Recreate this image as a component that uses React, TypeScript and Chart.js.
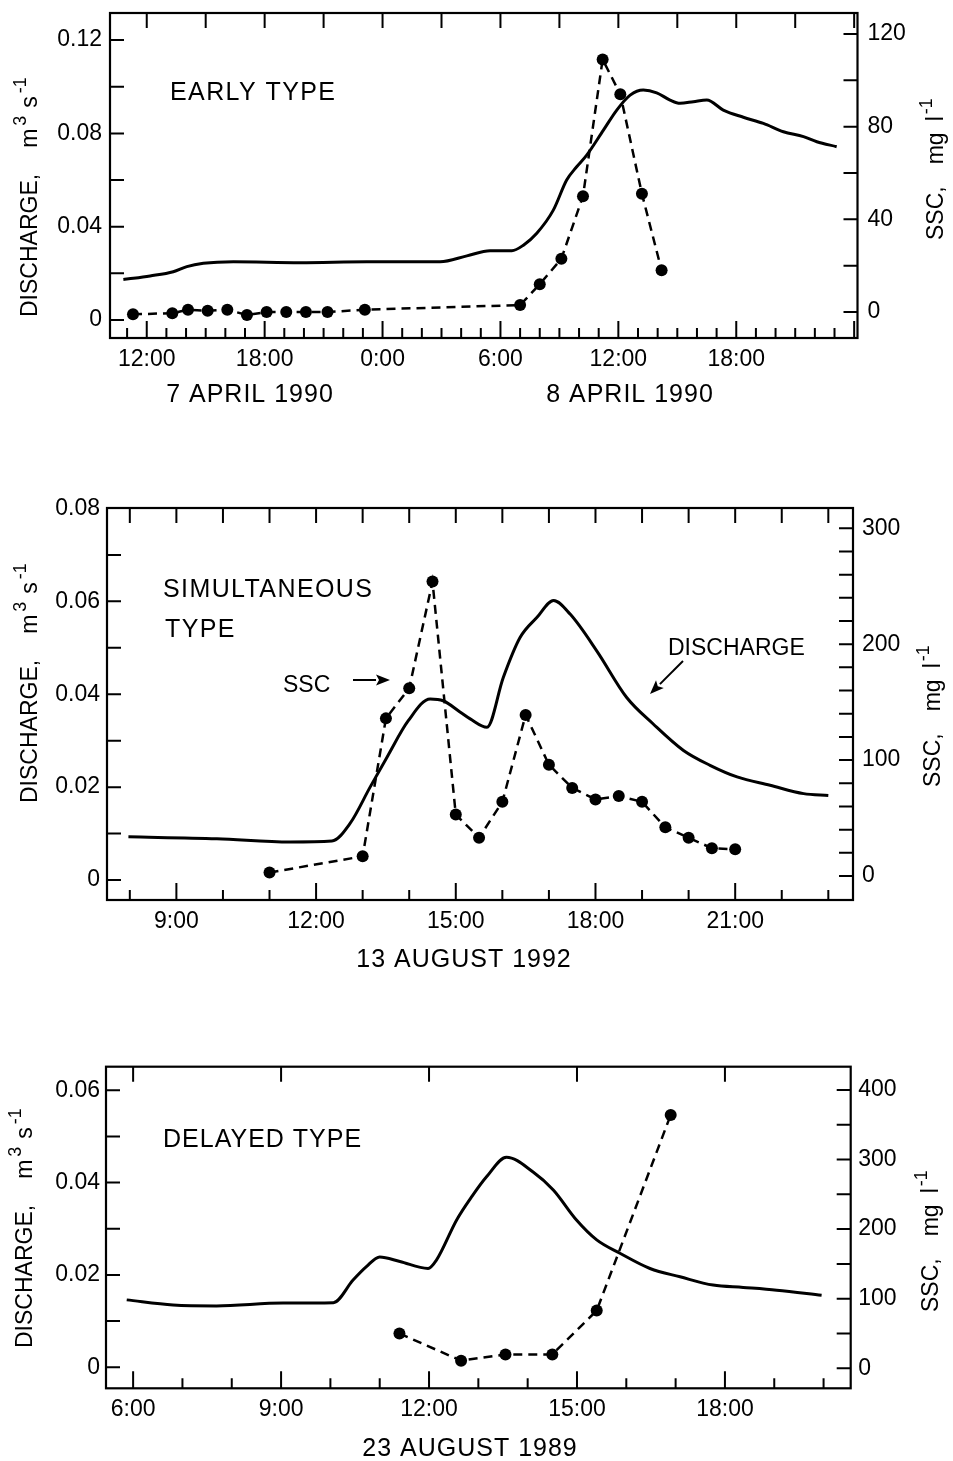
import React, { useEffect, useRef } from "react";
import { Chart, registerables } from "chart.js";

Chart.register(...registerables);

const FONT = '"Liberation Sans", Arial, sans-serif';

// ---------- Panel 1: EARLY TYPE (hours since 7 April 1990 00:00) ----------
const p1DischargeHours = [10.81, 11.32, 12.17, 13.35, 14.04, 14.88, 16.41, 19.8, 23.2, 26.93, 28.29, 29.47, 30.58, 31.17, 31.85, 32.69, 33.37, 33.88, 34.39, 35.24, 35.92, 36.6, 37.27, 37.95, 38.63, 39.14, 39.82, 40.5, 41.34, 42.36, 43.38, 44.4, 45.42, 46.1, 47.11];
const p1Discharge = [0.0174, 0.0179, 0.0189, 0.0207, 0.0229, 0.0243, 0.025, 0.0246, 0.025, 0.025, 0.0275, 0.0297, 0.0297, 0.0321, 0.0372, 0.0471, 0.06, 0.0657, 0.0707, 0.0814, 0.09, 0.0964, 0.0986, 0.0974, 0.0943, 0.0929, 0.0936, 0.0943, 0.09, 0.0869, 0.0843, 0.0807, 0.0786, 0.0764, 0.0743];
const p1SscHours = [11.3, 13.3, 14.1, 15.1, 16.1, 17.1, 18.1, 19.1, 20.1, 21.2, 23.1, 31.0, 32.0, 33.1, 34.2, 35.2, 36.1, 37.2, 38.2];
const p1Ssc = [-1, -0.5, 1, 0.5, 1, -1.3, 0, 0, 0, 0, 1, 3, 12, 23, 50, 109, 94, 51, 18];
const p1XLabelHours = [12, 18, 24, 30, 36, 42];
const p1XLabels = ["12:00", "18:00", "0:00", "6:00", "12:00", "18:00"];
const p1LeftVals = [0, 0.04, 0.08, 0.12];
const p1LeftLabels = ["0", "0.04", "0.08", "0.12"];
const p1RightVals = [0, 40, 80, 120];
const p1RightLabels = ["0", "40", "80", "120"];

// ---------- Panel 2: SIMULTANEOUS TYPE (hours, 13 August 1992) ----------
const p2DischargeHours = [7.97, 9.87, 11.44, 12.34, 12.73, 13.16, 13.52, 13.98, 14.45, 14.73, 15.09, 15.31, 15.67, 16.02, 16.38, 16.74, 17.1, 17.46, 18.03, 18.67, 19.24, 19.89, 20.46, 21.04, 21.75, 22.47, 23.0];
const p2Discharge = [0.0093, 0.0089, 0.0082, 0.0084, 0.0122, 0.02, 0.0264, 0.0343, 0.039, 0.0386, 0.0362, 0.0347, 0.0329, 0.0436, 0.0522, 0.0565, 0.0602, 0.0572, 0.0493, 0.0393, 0.0336, 0.0279, 0.0247, 0.0222, 0.0204, 0.0186, 0.0182];
const p2SscHours = [11.0, 13.0, 13.5, 14.0, 14.5, 15.0, 15.5, 16.0, 16.5, 17.0, 17.5, 18.0, 18.5, 19.0, 19.5, 20.0, 20.5, 21.0];
const p2Ssc = [3, 17, 136, 162, 254, 53, 33, 64, 139, 96, 76, 66, 69, 64, 42, 33, 24, 23];
const p2XLabelHours = [9, 12, 15, 18, 21];
const p2XLabels = ["9:00", "12:00", "15:00", "18:00", "21:00"];
const p2LeftVals = [0, 0.02, 0.04, 0.06, 0.08];
const p2LeftLabels = ["0", "0.02", "0.04", "0.06", "0.08"];
const p2RightVals = [0, 100, 200, 300];
const p2RightLabels = ["0", "100", "200", "300"];

// ---------- Panel 3: DELAYED TYPE (hours, 23 August 1989) ----------
const p3DischargeHours = [5.87, 6.81, 7.69, 9.04, 10.06, 10.46, 10.73, 11.0, 11.41, 11.98, 12.15, 12.56, 12.87, 13.17, 13.57, 14.11, 14.52, 14.99, 15.4, 15.87, 16.48, 17.09, 17.76, 18.37, 19.05, 19.96];
const p3Discharge = [0.0146, 0.0135, 0.0133, 0.0139, 0.014, 0.0189, 0.0218, 0.0239, 0.0229, 0.0214, 0.0232, 0.0319, 0.037, 0.0413, 0.0455, 0.0423, 0.0384, 0.0319, 0.0276, 0.0247, 0.0214, 0.0196, 0.0178, 0.0173, 0.0167, 0.0156];
const p3SscHours = [11.4, 12.65, 13.55, 14.5, 15.4, 16.9];
const p3Ssc = [50, 11, 20, 20, 83, 364];
const p3XLabelHours = [6, 9, 12, 15, 18];
const p3XLabels = ["6:00", "9:00", "12:00", "15:00", "18:00"];
const p3LeftVals = [0, 0.02, 0.04, 0.06];
const p3LeftLabels = ["0", "0.02", "0.04", "0.06"];
const p3RightVals = [0, 100, 200, 300, 400];
const p3RightLabels = ["0", "100", "200", "300", "400"];

type Seg = { t: string; sup?: boolean; gap?: number };
const leftTitle: Seg[] = [
  { t: "DISCHARGE," },
  { t: "m", gap: 26 },
  { t: "3", sup: true, gap: 3 },
  { t: "s", gap: 8 },
  { t: "-1", sup: true, gap: 3 },
];
const rightTitle: Seg[] = [
  { t: "SSC," },
  { t: "mg", gap: 22 },
  { t: "l", gap: 11 },
  { t: "-1", sup: true, gap: 2 },
];

interface TextItem { t: string; x: number; y: number; size: number; ls?: number; align?: CanvasTextAlign }
interface Arrow { x1: number; y1: number; x2: number; y2: number }

interface PanelCfg {
  top: number; height: number;
  leftW: number; rightW: number; padTop: number; xAxisH: number;
  xMin: number; xMax: number; xLabelStep: number; xMinor: number; xMajor: number; xTop: number;
  xLabelHours: number[]; xLabels: string[];
  yLMin: number; yLMax: number; yLStep: number; yLMinor: number; yLVals: number[]; yLLabels: string[];
  yRMin: number; yRMax: number; yRStep: number; yRMinor: number; yRVals: number[]; yRLabels: string[];
  padL: number; padR: number;
  qHours: number[]; q: number[]; sHours: number[]; s: number[];
  texts: TextItem[]; arrows: Arrow[];
  lt: { x: number; y: number }; rt: { x: number; y: number };
}

const panels: PanelCfg[] = [
  {
    top: 0, height: 430, leftW: 110, rightW: 95.5, padTop: 13, xAxisH: 92,
    xMin: 10.13, xMax: 48.17, xLabelStep: 6, xMinor: 1, xMajor: 6, xTop: 3,
    xLabelHours: p1XLabelHours, xLabels: p1XLabels,
    yLMin: -0.0077, yLMax: 0.1316, yLStep: 0.04, yLMinor: 0.02, yLVals: p1LeftVals, yLLabels: p1LeftLabels,
    yRMin: -11.22, yRMax: 129.06, yRStep: 40, yRMinor: 20, yRVals: p1RightVals, yRLabels: p1RightLabels,
    padL: 8, padR: 10,
    qHours: p1DischargeHours, q: p1Discharge, sHours: p1SscHours, s: p1Ssc,
    texts: [
      { t: "EARLY TYPE", x: 170, y: 100, size: 25, ls: 1.4 },
      { t: "7 APRIL 1990", x: 250, y: 402, size: 25, ls: 1, align: "center" },
      { t: "8 APRIL 1990", x: 630, y: 402, size: 25, ls: 1, align: "center" },
    ],
    arrows: [],
    lt: { x: 37, y: 317 }, rt: { x: 943, y: 240 },
  },
  {
    top: 480, height: 500, leftW: 107, rightW: 100, padTop: 28, xAxisH: 80,
    xMin: 7.51, xMax: 23.53, xLabelStep: 3, xMinor: 1, xMajor: 3, xTop: 1,
    xLabelHours: p2XLabelHours, xLabels: p2XLabels,
    yLMin: -0.0043, yLMax: 0.0801, yLStep: 0.02, yLMinor: 0.01, yLVals: p2LeftVals, yLLabels: p2LeftLabels,
    yRMin: -20.7, yRMax: 317.5, yRStep: 100, yRMinor: 20, yRVals: p2RightVals, yRLabels: p2RightLabels,
    padL: 7, padR: 9,
    qHours: p2DischargeHours, q: p2Discharge, sHours: p2SscHours, s: p2Ssc,
    texts: [
      { t: "SIMULTANEOUS", x: 163, y: 117, size: 25, ls: 1.4 },
      { t: "TYPE", x: 165, y: 157, size: 25, ls: 1.4 },
      { t: "SSC", x: 283, y: 212, size: 23 },
      { t: "DISCHARGE", x: 668, y: 175, size: 23 },
      { t: "13 AUGUST 1992", x: 464, y: 487, size: 25, ls: 1, align: "center" },
    ],
    arrows: [
      { x1: 353, y1: 200, x2: 390, y2: 200 },
      { x1: 683, y1: 181, x2: 650, y2: 214 },
    ],
    lt: { x: 37, y: 323 }, rt: { x: 940, y: 307 },
  },
  {
    top: 1040, height: 421, leftW: 106, rightW: 102.3, padTop: 26.7, xAxisH: 72.7,
    xMin: 5.45, xMax: 20.55, xLabelStep: 3, xMinor: 1, xMajor: 3, xTop: 3,
    xLabelHours: p3XLabelHours, xLabels: p3XLabels,
    yLMin: -0.00455, yLMax: 0.0651, yLStep: 0.02, yLMinor: 0.01, yLVals: p3LeftVals, yLLabels: p3LeftLabels,
    yRMin: -28.7, yRMax: 433.3, yRStep: 100, yRMinor: 50, yRVals: p3RightVals, yRLabels: p3RightLabels,
    padL: 6, padR: 7.5,
    qHours: p3DischargeHours, q: p3Discharge, sHours: p3SscHours, s: p3Ssc,
    texts: [
      { t: "DELAYED TYPE", x: 163, y: 107, size: 25, ls: 1 },
      { t: "23 AUGUST 1989", x: 470, y: 416, size: 25, ls: 1, align: "center" },
    ],
    arrows: [],
    lt: { x: 32, y: 308 }, rt: { x: 938, y: 272 },
  },
];

function labelFor(vals: number[], labels: string[], v: number): string {
  const i = vals.findIndex((h) => Math.abs(h - v) < 1e-6);
  return i >= 0 ? labels[i] : "";
}

function drawRotatedTitle(ctx: CanvasRenderingContext2D, x: number, y: number, segs: Seg[], size: number) {
  ctx.save();
  ctx.translate(x, y);
  ctx.rotate(-Math.PI / 2);
  ctx.fillStyle = "#000";
  ctx.textBaseline = "alphabetic";
  ctx.textAlign = "left";
  let cx = 0;
  for (const s of segs) {
    cx += s.gap || 0;
    const fs = s.sup ? size * 0.78 : size;
    ctx.font = `${fs}px ${FONT}`;
    ctx.fillText(s.t, cx, s.sup ? -size * 0.48 : 0);
    cx += ctx.measureText(s.t).width;
  }
  ctx.restore();
}

function ticksBetween(min: number, max: number, step: number): number[] {
  const out: number[] = [];
  const a = Math.ceil(min / step - 1e-9);
  const b = Math.floor(max / step + 1e-9);
  for (let i = a; i <= b; i++) out.push(i * step);
  return out;
}

const isMult = (v: number, m: number) => Math.abs(v / m - Math.round(v / m)) < 1e-6;

const decorPlugin = {
  id: "decor",
  afterDraw(chart: any, _args: any, opts: any) {
    const cfg: PanelCfg = opts.cfg;
    const { ctx, chartArea: a, scales } = chart;
    const x = scales.x, yl = scales.yL, yr = scales.yR;
    ctx.save();
    ctx.strokeStyle = "#000";
    ctx.lineWidth = 2.2;
    ctx.lineCap = "butt";
    ctx.strokeRect(a.left, a.top, a.right - a.left, a.bottom - a.top);
    ctx.lineWidth = 2;
    ctx.beginPath();
    for (const v of ticksBetween(cfg.xMin, cfg.xMax, cfg.xMinor)) {
      const px = x.getPixelForValue(v);
      if (px < a.left + 3 || px > a.right - 3) continue;
      const len = isMult(v, cfg.xMajor) ? 17 : 10;
      ctx.moveTo(px, a.bottom);
      ctx.lineTo(px, a.bottom - len);
    }
    for (const v of ticksBetween(cfg.xMin, cfg.xMax, cfg.xTop)) {
      const px = x.getPixelForValue(v);
      if (px < a.left + 3 || px > a.right - 3) continue;
      ctx.moveTo(px, a.top);
      ctx.lineTo(px, a.top + 15);
    }
    for (const v of ticksBetween(cfg.yLMin, cfg.yLMax, cfg.yLMinor)) {
      const py = yl.getPixelForValue(v);
      if (py < a.top + 3 || py > a.bottom - 3) continue;
      ctx.moveTo(a.left, py);
      ctx.lineTo(a.left + 14, py);
    }
    for (const v of ticksBetween(cfg.yRMin, cfg.yRMax, cfg.yRMinor)) {
      const py = yr.getPixelForValue(v);
      if (py < a.top + 3 || py > a.bottom - 3) continue;
      ctx.moveTo(a.right, py);
      ctx.lineTo(a.right - 14, py);
    }
    ctx.stroke();

    drawRotatedTitle(ctx, cfg.lt.x, cfg.lt.y, leftTitle, 23);
    drawRotatedTitle(ctx, cfg.rt.x, cfg.rt.y, rightTitle, 23);

    ctx.fillStyle = "#000";
    ctx.textBaseline = "alphabetic";
    for (const t of cfg.texts) {
      ctx.font = `${t.size}px ${FONT}`;
      (ctx as any).letterSpacing = `${t.ls || 0}px`;
      ctx.textAlign = t.align || "left";
      ctx.fillText(t.t, t.x, t.y);
    }
    (ctx as any).letterSpacing = "0px";

    ctx.lineWidth = 2;
    for (const ar of cfg.arrows) {
      const ang = Math.atan2(ar.y2 - ar.y1, ar.x2 - ar.x1);
      const hl = 14, hw = 5.5;
      const bx = ar.x2 - hl * Math.cos(ang), by = ar.y2 - hl * Math.sin(ang);
      ctx.beginPath();
      ctx.moveTo(ar.x1, ar.y1);
      ctx.lineTo(bx, by);
      ctx.stroke();
      ctx.beginPath();
      ctx.moveTo(ar.x2, ar.y2);
      ctx.lineTo(bx + hw * Math.sin(ang), by - hw * Math.cos(ang));
      ctx.lineTo(bx + 3 * Math.cos(ang), by + 3 * Math.sin(ang));
      ctx.lineTo(bx - hw * Math.sin(ang), by + hw * Math.cos(ang));
      ctx.closePath();
      ctx.fill();
    }
    ctx.restore();
  },
};

function Panel({ cfg }: { cfg: PanelCfg }) {
  const ref = useRef<HTMLCanvasElement | null>(null);
  useEffect(() => {
    if (!ref.current) return;
    const tickFont = { family: FONT, size: 23 };
    const chart = new Chart(ref.current, {
      type: "line",
      data: {
        datasets: [
          {
            label: "Discharge",
            data: cfg.qHours.map((h, i) => ({ x: h, y: cfg.q[i] })),
            yAxisID: "yL",
            borderColor: "#000",
            borderWidth: 3,
            pointRadius: 0,
            cubicInterpolationMode: "monotone",
            fill: false,
          },
          {
            label: "SSC",
            data: cfg.sHours.map((h, i) => ({ x: h, y: cfg.s[i] })),
            yAxisID: "yR",
            borderColor: "#000",
            borderWidth: 2.5,
            borderDash: [9, 6],
            pointRadius: 6,
            pointBackgroundColor: "#000",
            pointBorderColor: "#000",
            pointBorderWidth: 0,
            tension: 0,
            fill: false,
          },
        ],
      },
      options: {
        animation: false,
        responsive: false,
        devicePixelRatio: 1,
        layout: { padding: { top: cfg.padTop, left: 0, right: 0, bottom: 0 } },
        plugins: {
          legend: { display: false },
          tooltip: { enabled: false },
          decor: { cfg },
        } as any,
        scales: {
          x: {
            type: "linear",
            position: "bottom",
            min: cfg.xMin,
            max: cfg.xMax,
            grid: { display: false, drawTicks: false },
            border: { display: false },
            afterFit: (s: any) => { s.height = cfg.xAxisH; s.paddingLeft = 0; s.paddingRight = 0; },
            ticks: {
              stepSize: cfg.xLabelStep,
              includeBounds: false,
              autoSkip: false,
              maxRotation: 0,
              minRotation: 0,
              padding: 8,
              color: "#000",
              font: tickFont,
              callback: (v: any) => labelFor(cfg.xLabelHours, cfg.xLabels, Number(v)),
            },
          },
          yL: {
            type: "linear",
            position: "left",
            min: cfg.yLMin,
            max: cfg.yLMax,
            grid: { display: false, drawTicks: false },
            border: { display: false },
            afterFit: (s: any) => { s.width = cfg.leftW; s.paddingTop = 0; s.paddingBottom = 0; },
            ticks: {
              stepSize: cfg.yLStep,
              includeBounds: false,
              padding: cfg.padL,
              color: "#000",
              font: tickFont,
              callback: (v: any) => labelFor(cfg.yLVals, cfg.yLLabels, Number(v)),
            },
          },
          yR: {
            type: "linear",
            position: "right",
            min: cfg.yRMin,
            max: cfg.yRMax,
            grid: { display: false, drawTicks: false },
            border: { display: false },
            afterFit: (s: any) => { s.width = cfg.rightW; s.paddingTop = 0; s.paddingBottom = 0; },
            ticks: {
              stepSize: cfg.yRStep,
              includeBounds: false,
              padding: cfg.padR,
              color: "#000",
              font: tickFont,
              callback: (v: any) => labelFor(cfg.yRVals, cfg.yRLabels, Number(v)),
            },
          },
        },
      } as any,
      plugins: [decorPlugin as any],
    });
    return () => chart.destroy();
  }, [cfg]);
  return (
    <div style={{ position: "absolute", left: 0, top: cfg.top, width: 953, height: cfg.height }}>
      <canvas ref={ref} width={953} height={cfg.height} style={{ display: "block", width: 953, height: cfg.height }} />
    </div>
  );
}

export default function App() {
  useEffect(() => {
    document.body.style.margin = "0";
    document.body.style.background = "#fff";
  }, []);
  return (
    <div style={{ position: "absolute", left: 0, top: 0, width: 953, height: 1461, background: "#fff" }}>
      {panels.map((p, i) => (
        <Panel key={i} cfg={p} />
      ))}
    </div>
  );
}
